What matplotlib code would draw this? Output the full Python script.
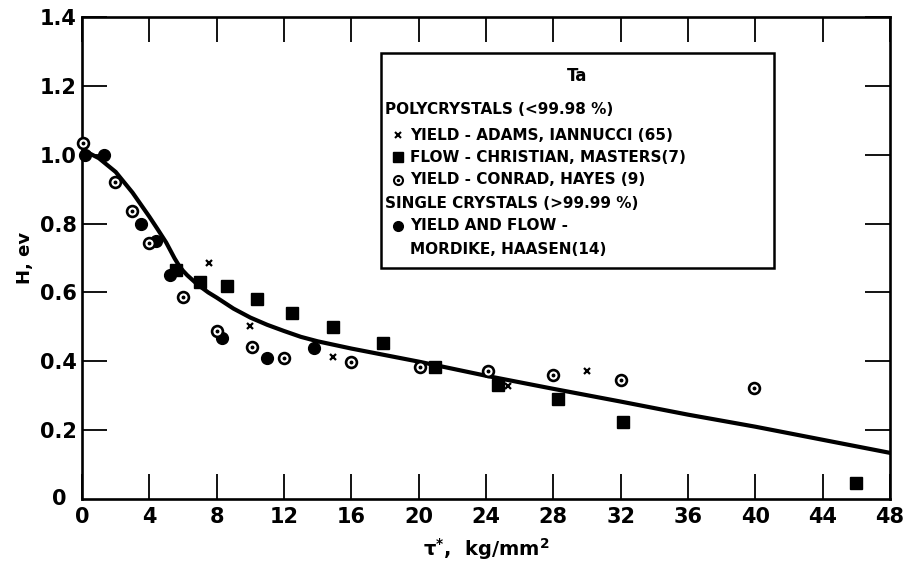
import matplotlib
matplotlib.use("Agg")
import matplotlib.pyplot as plt
from matplotlib.patches import Rectangle
from matplotlib.lines import Line2D

plt.rcParams['font.family'] = ['DejaVu Sans']
plt.rcParams['font.weight'] = 'bold'
plt.rcParams['mathtext.default'] = 'bf'

# ---- data ----
curve_x = [0, 1, 2, 3, 4, 4.5, 5, 5.25, 5.5, 5.75, 6, 6.25, 6.5, 6.75, 7, 7.5, 8, 9, 10,
           11, 12, 13, 14, 16, 18, 20, 24, 28, 32, 36, 40, 44, 48]
curve_y = [1.015, 0.99, 0.95, 0.89, 0.82, 0.783, 0.745, 0.722, 0.699, 0.679, 0.663, 0.65,
           0.639, 0.628, 0.618, 0.6, 0.585, 0.553, 0.527, 0.506, 0.488, 0.471, 0.458,
           0.437, 0.418, 0.399, 0.358, 0.32, 0.283, 0.245, 0.21, 0.172, 0.134]

adams_x = [7.55, 10.0, 14.9, 25.3, 30.0]
adams_y = [0.686, 0.503, 0.412, 0.328, 0.372]

christian_x = [5.6, 7.0, 8.6, 10.4, 12.5, 14.9, 17.9, 21.0, 24.7, 28.3, 32.15, 46.0]
christian_y = [0.665, 0.63, 0.62, 0.58, 0.54, 0.50, 0.453, 0.384, 0.331, 0.291, 0.224, 0.047]

conrad_x = [0.05, 1.96, 2.97, 3.98, 6.0, 8.0, 10.1, 12.0, 16.0, 20.1, 24.1, 28.0, 32.0, 39.9]
conrad_y = [1.035, 0.92, 0.837, 0.744, 0.587, 0.489, 0.442, 0.41, 0.398, 0.383, 0.372,
            0.36, 0.346, 0.323]

mordike_x = [0.15, 1.3, 3.5, 4.4, 5.2, 8.3, 11.0, 13.8]
mordike_y = [1.0, 1.0, 0.80, 0.75, 0.65, 0.468, 0.41, 0.438]

x_ticks = [0, 4, 8, 12, 16, 20, 24, 28, 32, 36, 40, 44, 48]
y_ticks = [0.2, 0.4, 0.6, 0.8, 1.0, 1.2, 1.4]
y_tick_labels = ['0.2', '0.4', '0.6', '0.8', '1.0', '1.2', '1.4']

legend_title = 'Ta'
legend_lines = [
    ('POLYCRYSTALS (<99.98 %)', None),
    ('YIELD - ADAMS, IANNUCCI (65)', 'x'),
    ('FLOW - CHRISTIAN, MASTERS(7)', 's'),
    ('YIELD - CONRAD, HAYES (9)', 'o'),
    ('SINGLE CRYSTALS (>99.99 %)', None),
    ('YIELD AND FLOW -', 'f'),
    ('MORDIKE, HAASEN(14)', ''),
]

W, H = 912, 568
fig = plt.figure(figsize=(W / 100, H / 100), dpi=100)
ax = fig.add_axes([82 / W, 1 - 499 / H, (890 - 82) / W, (499 - 17) / H])
ax.set_xlim(0, 48)
ax.set_ylim(0, 1.4)

ax.plot(curve_x, curve_y, color='black', lw=3.0, solid_capstyle='round',
        solid_joinstyle='round', zorder=2)
ax.plot(christian_x, christian_y, 's', color='black', ms=8.5, zorder=3, clip_on=False)
ax.plot(mordike_x, mordike_y, 'o', color='black', ms=8.5, zorder=3, clip_on=False)
ax.plot(conrad_x, conrad_y, 'o', mfc='white', mec='black', mew=1.9, ms=7.8, zorder=4, clip_on=False)
ax.plot(conrad_x, conrad_y, 'o', color='black', ms=1.8, zorder=5, clip_on=False)
ax.plot(adams_x, adams_y, 'x', color='black', ms=4.5, mew=1.6, zorder=4)

for s in ax.spines.values():
    s.set_linewidth(1.9)
ax.set_xticks(x_ticks)
ax.set_xticklabels([str(t) for t in x_ticks])
ax.set_yticks(y_ticks)
ax.set_yticklabels(y_tick_labels)
ax.tick_params(direction='in', length=18, width=1.3, top=True, right=True,
               labelsize=15, pad=4)
ax.tick_params(axis='x', pad=6)
ax.text(-0.9, 0.0, '0', ha='right', va='center', fontsize=15, fontweight='bold')

ax.set_ylabel('H, ev', fontsize=13, fontweight='bold', labelpad=4)
ax.set_xlabel('τ$^{*}$,  kg/mm$^{2}$', fontsize=14, fontweight='bold', labelpad=6)


def fx(px):
    return px / W


def fy(py):
    return 1 - py / H


LFS = 11
fig.add_artist(Rectangle((fx(381), fy(268)), fx(774) - fx(381), fy(53) - fy(268),
                         transform=fig.transFigure, fill=False, lw=1.8, ec='black'))
fig.text(fx(577), fy(76), legend_title, ha='center', va='center', fontsize=12,
         fontweight='bold')
rows_y = [110, 135, 157, 180, 203, 226, 249]
for (label, mk), py in zip(legend_lines, rows_y):
    if mk is None:
        fig.text(fx(385), fy(py), label, ha='left', va='center', fontsize=LFS,
                 fontweight='bold')
    else:
        fig.text(fx(410), fy(py), label, ha='left', va='center', fontsize=LFS,
                 fontweight='bold')
        if mk == 'x':
            fig.add_artist(Line2D([fx(398)], [fy(py)], marker='x', color='black', ms=4,
                                  mew=1.5, transform=fig.transFigure))
        elif mk == 's':
            fig.add_artist(Line2D([fx(398)], [fy(py)], marker='s', color='black', ms=6.5,
                                  transform=fig.transFigure))
        elif mk == 'o':
            fig.add_artist(Line2D([fx(398)], [fy(py)], marker='o', mfc='white', mec='black',
                                  mew=1.5, ms=6.5, transform=fig.transFigure))
            fig.add_artist(Line2D([fx(398)], [fy(py)], marker='o', color='black', ms=1.5,
                                  transform=fig.transFigure))
        elif mk == 'f':
            fig.add_artist(Line2D([fx(398)], [fy(py)], marker='o', color='black', ms=7,
                                  transform=fig.transFigure))

fig.savefig('out.png', dpi=100)
